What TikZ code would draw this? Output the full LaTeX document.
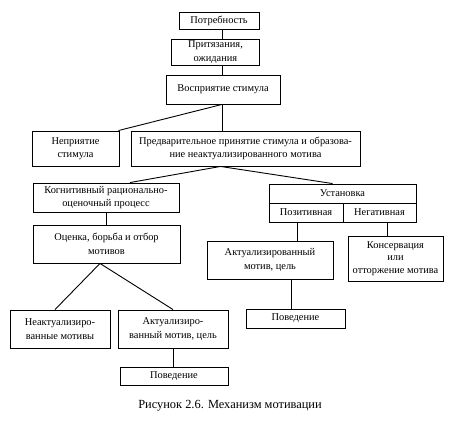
\documentclass[tikz,border=0pt]{standalone}
\usepackage{fontspec}
\setmainfont{Liberation Serif}
\usetikzlibrary{calc}
\tikzset{
  box/.style={draw, line width=0.9pt, inner sep=1pt, align=center, font=\fontsize{10.4}{13.5}\selectfont},
  conn/.style={line width=0.9pt},
}
\begin{document}
\begin{tikzpicture}[x=1pt,y=-1pt]
\useasboundingbox (0,0) rectangle (461,428);
\node[box, minimum width=80pt, minimum height=17pt] (potr) at (219,20.5) {Потребность};
\node[box, minimum width=88pt, minimum height=26pt] (prit) at (215.5,52) {Притязания,\\ожидания};
\node[box, minimum width=114pt, minimum height=29pt] (vos) at (223,89.5) {Восприятие стимула};
\node[box, minimum width=87pt, minimum height=35pt] (nep) at (75.5,148.5) {Неприятие\\стимула};
\node[box, minimum width=229pt, minimum height=35pt] (pred) at (245.5,148.5) {Предварительное принятие стимула и образова-\\ние неактуализированного мотива};
\node[box, minimum width=146pt, minimum height=29pt] (kog) at (106,197.5) {Когнитивный рационально-\\оценочный процесс};
\node[box, minimum width=147pt, minimum height=19pt] (ust) at (342.5,193.5) {Установка};
\node[box, minimum width=74pt, minimum height=19pt] (poz) at (306,212.5) {Позитивная};
\node[box, minimum width=73pt, minimum height=19pt] (neg) at (379.5,212.5) {Негативная};
\node[box, minimum width=147pt, minimum height=38pt] (oce) at (106.5,244) {Оценка, борьба и отбор\\мотивов};
\node[box, minimum width=126pt, minimum height=38pt] (akt) at (270,260) {Актуализированный\\мотив, цель};
\node[box, minimum width=95pt, minimum height=45pt, font=\fontsize{10.4}{12.5}\selectfont] (kon) at (395.5,258.5) {Консервация\\или\\отторжение мотива};
\node[box, minimum width=100pt, minimum height=38pt] (neak) at (60,329) {Неактуализиро-\\ванные мотивы};
\node[box, minimum width=110pt, minimum height=38pt] (akt2) at (173,329) {Актуализиро-\\ванный мотив, цель};
\node[box, minimum width=108pt, minimum height=18pt] (pov2) at (174,376) {Поведение};
\node[box, minimum width=99pt, minimum height=19pt] (pov1) at (295.5,318.5) {Поведение};
\node[font=\fontsize{12.4}{14}\selectfont] (cap) at (230,406) {Рисунок 2.6. Механизм мотивации};
% connectors
\coordinate (a1) at ($(potr.south)+(3,0)$);
\draw[conn] (a1) -- (a1 |- prit.north);
\coordinate (a2) at ($(vos.north)+(-1,0)$);
\draw[conn] (a2 |- prit.south) -- (a2);
\coordinate (v) at ($(vos.south)+(-1,0)$);
\draw[conn] (v) -- ($(nep.north east)+(-1,0)$);
\draw[conn] (v) -- (v |- pred.north);
\coordinate (p) at ($(pred.south)+(-25,0)$);
\draw[conn] (p) -- ($(kog.north)+(24,0)$);
\draw[conn] (p) -- ($(ust.north)+(-10,0)$);
\coordinate (k) at (kog.south);
\draw[conn] (k) -- (k |- oce.north);
\coordinate (ps) at ($(poz.south)+(-9,0)$);
\draw[conn] (ps) -- (ps |- akt.north);
\coordinate (ns) at ($(neg.south)+(7.5,0)$);
\draw[conn] (ns) -- (ns |- kon.north);
\coordinate (o) at ($(oce.south)+(-6.5,0)$);
\draw[conn] (o) -- ($(neak.north)+(-5,0)$);
\draw[conn] (o) -- (akt2.north);
\draw[conn] (akt2.south) -- (akt2.south |- pov2.north);
\coordinate (as) at ($(akt.south)+(21,0)$);
\draw[conn] (as) -- (as |- pov1.north);
\end{tikzpicture}
\end{document}
